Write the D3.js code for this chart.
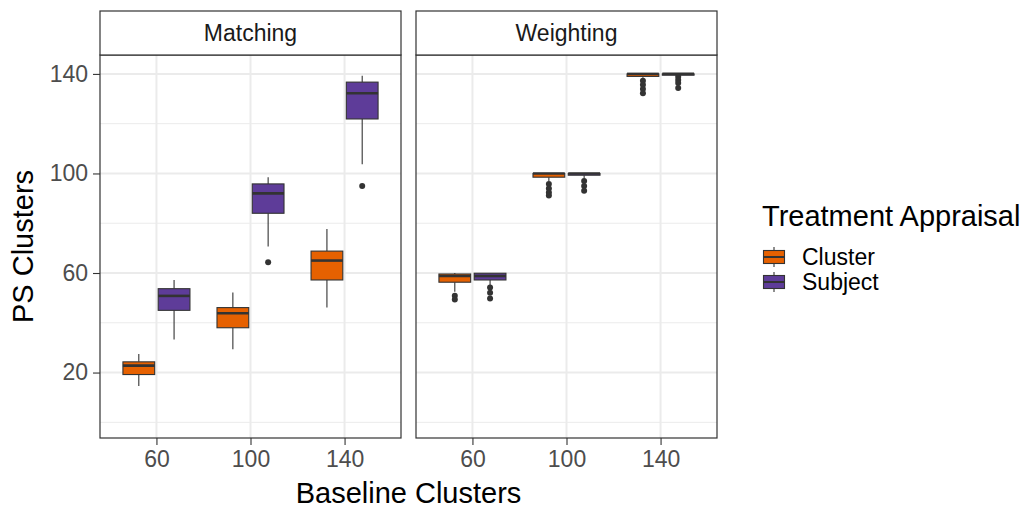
<!DOCTYPE html>
<html>
<head>
<meta charset="utf-8">
<script src="https://cdn.jsdelivr.net/npm/d3@7"></script>
<style>
  html, body { margin: 0; padding: 0; background: #ffffff; }
  svg { display: block; font-family: "Liberation Sans", Arial, Helvetica, sans-serif; }
</style>
</head>
<body>
<svg id="chart" width="1029" height="510"></svg>
<script>
// Facets, x categories and fill groups
const panels = ["Matching", "Weighting"];
const baseline = ["60", "100", "140"];
const appraisal = ["Cluster", "Subject"];
const fills = ["#E66101", "#5E3C99"];
const yTicks = [20, 60, 100, 140];
const yMinor = [0, 40, 80, 120];

// Box statistics, ordered panel -> baseline -> appraisal
const boxPanel    = ["Matching","Matching","Matching","Matching","Matching","Matching",
                     "Weighting","Weighting","Weighting","Weighting","Weighting","Weighting"];
const boxBaseline = ["60","60","100","100","140","140","60","60","100","100","140","140"];
const boxGroup    = ["Cluster","Subject","Cluster","Subject","Cluster","Subject",
                     "Cluster","Subject","Cluster","Subject","Cluster","Subject"];
const whiskerLow  = [14.6, 33.3, 29.4, 70.6, 46.1, 103.7, 52.5, 55.2, 97, 98, 138.5, 139];
const q1          = [19.2, 45.0, 38.0, 84.0, 57.2, 121.9, 56.3, 57.2, 98.5, 99.3, 139, 139.5];
const median      = [22.8, 50.8, 43.8, 92.0, 65.0, 132.2, 58.8, 58.8, 100, 100, 140, 140];
const q3          = [24.3, 53.7, 46.1, 95.8, 68.8, 136.7, 59.6, 59.9, 100, 100, 140, 140];
const whiskerHigh = [27.5, 57.2, 52.2, 98.5, 77.7, 139.3, 60, 60, 100, 100, 140, 140];
const outliers    = [[], [], [], [64.3], [], [95],
                     [50.9, 49.4], [54.2, 52.1, 49.8],
                     [95.8, 94.0, 92.3, 91.1], [97.0, 95.0, 93.1],
                     [137.3, 135.6, 133.9, 132.2], [138.9, 137.6, 136.3, 134.3]];

const boxes = boxPanel.map((p, i) => ({
  panel: p, base: boxBaseline[i], group: boxGroup[i],
  lo: whiskerLow[i], q1: q1[i], med: median[i], q3: q3[i], hi: whiskerHigh[i],
  out: outliers[i]
}));

const svg = d3.select("#chart");
const ink = "#333333";
const gridCol = "#EBEBEB";

// Layout
const plotTop = 55, plotBottom = 438, stripTop = 11;
const panelX = [100, 416], panelW = 301;

const y = d3.scaleLinear().domain([-6.3, 147.6]).range([plotBottom, plotTop]);
const x = d3.scalePoint().domain(baseline).range([0, panelW]).padding(0.6);
const step = x.step();
const dodge = d3.scaleBand().domain(appraisal)
  .range([-0.375 * step, 0.375 * step]).paddingInner(0.1).paddingOuter(0.05);
const fill = d3.scaleOrdinal().domain(appraisal).range(fills);

panels.forEach((name, pi) => {
  const g = svg.append("g").attr("transform", `translate(${panelX[pi]},0)`);

  // grid
  g.selectAll(".ymin").data(yMinor).join("line")
    .attr("x1", 0).attr("x2", panelW)
    .attr("y1", d => y(d)).attr("y2", d => y(d))
    .attr("stroke", gridCol).attr("stroke-width", 1);
  g.selectAll(".ymaj").data(yTicks).join("line")
    .attr("x1", 0).attr("x2", panelW)
    .attr("y1", d => y(d)).attr("y2", d => y(d))
    .attr("stroke", gridCol).attr("stroke-width", 2);
  g.selectAll(".xmaj").data(baseline).join("line")
    .attr("x1", d => x(d)).attr("x2", d => x(d))
    .attr("y1", plotTop).attr("y2", plotBottom)
    .attr("stroke", gridCol).attr("stroke-width", 2);

  const data = boxes.filter(b => b.panel === name);
  const bw = dodge.bandwidth();
  const bg = g.selectAll(".box").data(data).join("g")
    .attr("transform", d => `translate(${x(d.base) + dodge(d.group)},0)`);

  // whiskers
  bg.append("line").attr("x1", bw / 2).attr("x2", bw / 2)
    .attr("y1", d => y(d.hi)).attr("y2", d => y(d.q3))
    .attr("stroke", ink).attr("stroke-width", 1.1);
  bg.append("line").attr("x1", bw / 2).attr("x2", bw / 2)
    .attr("y1", d => y(d.q1)).attr("y2", d => y(d.lo))
    .attr("stroke", ink).attr("stroke-width", 1.1);
  // box
  bg.append("rect").attr("x", 0).attr("width", bw)
    .attr("y", d => y(d.q3)).attr("height", d => Math.max(0, y(d.q1) - y(d.q3)))
    .attr("fill", d => fill(d.group)).attr("stroke", ink).attr("stroke-width", 1.1);
  // median
  bg.append("line").attr("x1", 0).attr("x2", bw)
    .attr("y1", d => y(d.med)).attr("y2", d => y(d.med))
    .attr("stroke", ink).attr("stroke-width", 2.6);
  // outliers
  bg.selectAll("circle").data(d => d.out).join("circle")
    .attr("cx", bw / 2).attr("cy", v => y(v)).attr("r", 3)
    .attr("fill", ink);

  // panel border
  g.append("rect").attr("x", 0).attr("y", plotTop).attr("width", panelW)
    .attr("height", plotBottom - plotTop)
    .attr("fill", "none").attr("stroke", ink).attr("stroke-width", 1.2);

  // strip
  g.append("rect").attr("x", 0).attr("y", stripTop).attr("width", panelW)
    .attr("height", plotTop - stripTop)
    .attr("fill", "#ffffff").attr("stroke", ink).attr("stroke-width", 1.2);
  g.append("text").attr("x", panelW / 2).attr("y", (stripTop + plotTop) / 2)
    .attr("text-anchor", "middle").attr("dominant-baseline", "central")
    .attr("font-size", 23).attr("fill", "#1A1A1A").text(name);

  // x axis
  const xa = g.append("g").attr("transform", `translate(0,${plotBottom})`)
    .call(d3.axisBottom(x).tickSize(7).tickPadding(6));
  xa.select(".domain").remove();
  xa.selectAll(".tick line").attr("stroke", ink).attr("stroke-width", 1.1);
  xa.selectAll(".tick text").attr("font-size", 23).attr("fill", "#4D4D4D")
    .attr("font-family", "Liberation Sans, Arial, sans-serif");
});

// y axis
const ya = svg.append("g").attr("transform", `translate(${panelX[0]},0)`)
  .call(d3.axisLeft(y).tickValues(yTicks).tickSize(7).tickPadding(5));
ya.select(".domain").remove();
ya.selectAll(".tick line").attr("stroke", ink).attr("stroke-width", 1.1);
ya.selectAll(".tick text").attr("font-size", 23).attr("fill", "#4D4D4D")
  .attr("font-family", "Liberation Sans, Arial, sans-serif");

// axis titles
svg.append("text")
  .attr("transform", `translate(33,${(plotTop + plotBottom) / 2}) rotate(-90)`)
  .attr("text-anchor", "middle").attr("font-size", 29).attr("fill", "#000")
  .text("PS Clusters");
svg.append("text")
  .attr("x", (panelX[0] + panelX[1] + panelW) / 2).attr("y", 503)
  .attr("text-anchor", "middle").attr("font-size", 29).attr("fill", "#000")
  .text("Baseline Clusters");

// legend
const lg = svg.append("g").attr("transform", "translate(762,0)");
lg.append("text").attr("x", 0).attr("y", 226)
  .attr("font-size", 29).attr("fill", "#000").text("Treatment Appraisal");
const keyTop = 244.5, keyH = 25;
const items = lg.selectAll(".key").data(appraisal).join("g")
  .attr("transform", (d, i) => `translate(0,${keyTop + i * keyH})`);
items.append("line").attr("x1", 12).attr("x2", 12)
  .attr("y1", 2.5).attr("y2", 22.5)
  .attr("stroke", ink).attr("stroke-width", 1.1);
items.append("rect").attr("x", 1.5).attr("width", 21)
  .attr("y", 6).attr("height", 13)
  .attr("fill", d => fill(d)).attr("stroke", ink).attr("stroke-width", 1.1);
items.append("line").attr("x1", 1.5).attr("x2", 22.5)
  .attr("y1", 12.5).attr("y2", 12.5)
  .attr("stroke", ink).attr("stroke-width", 2);
items.append("text").attr("x", 40).attr("y", keyH / 2)
  .attr("dominant-baseline", "central").attr("font-size", 23).attr("fill", "#000")
  .text(d => d);
</script>
</body>
</html>
